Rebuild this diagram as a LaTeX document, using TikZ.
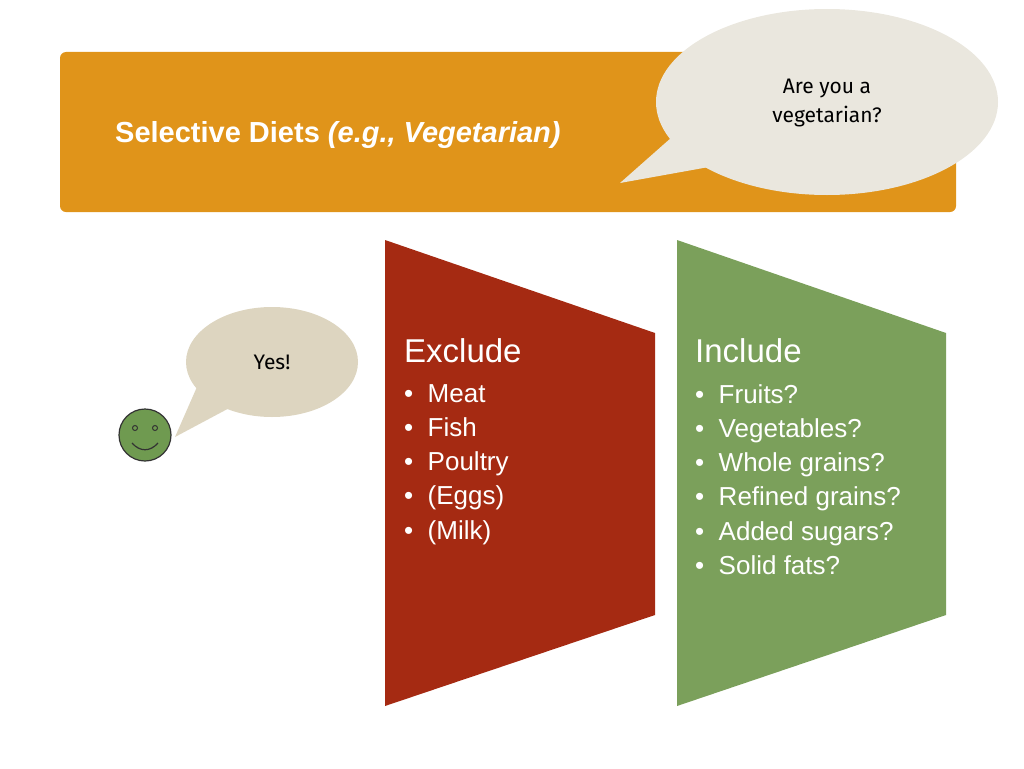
\documentclass[tikz,border=0pt]{standalone}
\usepackage{fontspec}
\setmainfont{Liberation Sans}
\newfontfamily\bubblefont{Fira Sans}
\usetikzlibrary{positioning}
\definecolor{bannerorange}{HTML}{E0941A}
\definecolor{bubblegrey}{HTML}{EAE7DE}
\definecolor{bubbletan}{HTML}{DDD5C0}
\definecolor{excludered}{HTML}{A52A12}
\definecolor{includegreen}{HTML}{7BA05B}
\definecolor{smileygreen}{HTML}{6F9A50}
\tikzset{
  heading/.style={anchor=base west, text=white, font=\fontsize{33}{36}\selectfont, inner sep=0pt},
  itemlist/.style={anchor=north west, text=white, font=\fontsize{26}{34.3}\selectfont, align=left, inner sep=0pt},
  bubbletext/.style={align=center, font=\bubblefont\fontsize{21}{29}\selectfont, inner sep=0pt}
}
\begin{document}
\begin{tikzpicture}[x=1pt,y=-1pt]
\useasboundingbox (0,0) rectangle (1024,768);
% banner
\fill[bannerorange, rounded corners=6pt] (60,52) rectangle (956,212);
\node[anchor=base west, text=white, font=\bfseries\fontsize{29}{32}\selectfont, inner sep=0pt] (title) at (115,142) {Selective Diets \textit{(e.g., Vegetarian)}};
% question bubble
\fill[bubblegrey] (827,102) ellipse [x radius=171, y radius=93];
\fill[bubblegrey] (680,130) -- (620,183) -- (720,165) -- cycle;
\node[bubbletext] (ask) at (827,103) {Are you a\\vegetarian?};
% panels
\fill[excludered] (385,240) -- (655,333) -- (655,615) -- (385,706) -- cycle;
\fill[includegreen] (677,240) -- (946,333) -- (946,615) -- (677,706) -- cycle;
\node[heading] (exclude) at (404,362) {Exclude};
\node[itemlist] (exlist) at (404,384) {\textbullet\ \ Meat\\\textbullet\ \ Fish\\\textbullet\ \ Poultry\\\textbullet\ \ (Eggs)\\\textbullet\ \ (Milk)};
\node[heading] (include) at (695,362) {Include};
\node[itemlist] (inlist) at (695,384) {\textbullet\ \ Fruits?\\\textbullet\ \ Vegetables?\\\textbullet\ \ Whole grains?\\\textbullet\ \ Refined grains?\\\textbullet\ \ Added sugars?\\\textbullet\ \ Solid fats?};
% answer bubble
\fill[bubbletan] (272,362) ellipse [x radius=86, y radius=55];
\fill[bubbletan] (200,380) -- (175,437) -- (235,405) -- cycle;
\node[bubbletext] (yes) at (272,362) {Yes!};
% smiley
\filldraw[fill=smileygreen, draw=black!80, line width=1.2pt] (145,435) circle [radius=26];
\draw[black!80, line width=1pt] (135,428) circle [radius=2.5] (155,428) circle [radius=2.5];
\draw[black!80, line width=1.2pt] (132,443) .. controls (140,452) and (150,452) .. (158,443);
\end{tikzpicture}
\end{document}
